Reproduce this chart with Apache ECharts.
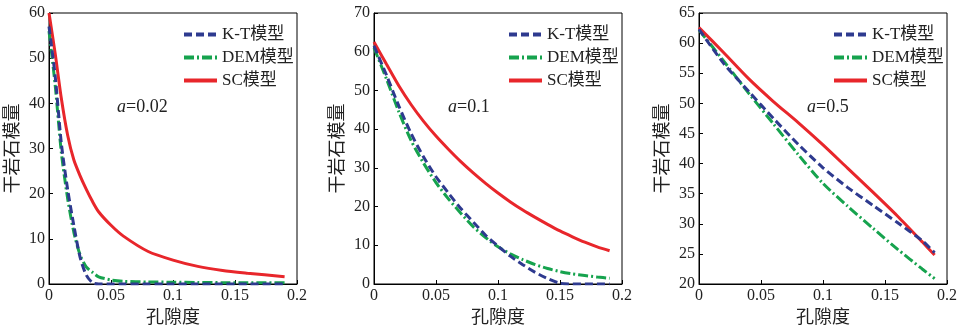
<!DOCTYPE html>
<html>
<head>
<meta charset="utf-8">
<script src="https://cdn.jsdelivr.net/npm/echarts@6/dist/echarts.min.js"></script>
<style>
  html, body { margin: 0; padding: 0; background: #fff; }
  #chart { width: 962px; height: 332px; }
</style>
</head>
<body>
<div id="chart"></div>
<script>
// porosity samples for each panel
const x1 = [0, 0.005, 0.01, 0.015, 0.02, 0.025, 0.03, 0.035, 0.04, 0.05, 0.06, 0.08, 0.1, 0.12, 0.14, 0.16, 0.19];
const kt1 = [57, 46, 31, 21, 13, 6, 2, 0.3, 0, 0, 0, 0, 0, 0, 0, 0, 0];
const dem1 = [56, 44, 29, 19, 11.5, 6.5, 3.8, 2.6, 1.6, 0.9, 0.6, 0.45, 0.4, 0.35, 0.3, 0.28, 0.25];
const sc1 = [60, 51, 41, 33, 27.5, 24, 21, 18.3, 16, 13, 10.6, 7.2, 5.3, 3.9, 3.0, 2.4, 1.6];

const x2 = [0, 0.01, 0.02, 0.03, 0.04, 0.05, 0.06, 0.07, 0.08, 0.09, 0.1, 0.11, 0.12, 0.13, 0.14, 0.15, 0.16, 0.17, 0.18, 0.19];
const kt2 = [61.5, 54, 46, 38.8, 32.8, 27.7, 23.5, 19.5, 16, 12.6, 9.8, 7.2, 5, 3, 1.4, 0.2, 0, 0, 0, 0];
const dem2 = [61, 53, 44.5, 37, 31.2, 26.2, 22, 18.3, 14.8, 12, 9.6, 7.8, 6.3, 5.0, 4.0, 3.2, 2.6, 2.2, 1.8, 1.5];
const sc2 = [62.5, 56.8, 51.2, 46.3, 42, 38.2, 34.8, 31.6, 28.7, 26, 23.5, 21.2, 19.1, 17.2, 15.4, 13.7, 12.2, 10.8, 9.6, 8.6];

const x3 = [0, 0.02, 0.04, 0.06, 0.08, 0.1, 0.12, 0.14, 0.16, 0.18, 0.19];
const kt3 = [62.3, 56.6, 52, 47.5, 43.2, 39.3, 36, 33.1, 30.2, 27.2, 25.2];
const dem3 = [62.2, 57, 51.7, 46.6, 41.5, 36.7, 32.9, 29.3, 25.8, 22.5, 20.9];
const sc3 = [62.6, 58.4, 54.1, 50.3, 46.8, 43.1, 39.2, 35.3, 31.3, 27.0, 24.8];

const modelNames = ["K-T模型", "DEM模型", "SC模型"];
const alphaLabels = ["0.02", "0.1", "0.5"];
const yRanges = [[0, 60, 10], [0, 70, 10], [20, 65, 5]];

const chart = echarts.init(document.getElementById("chart"));

const serif = "'Liberation Serif', 'Noto Sans CJK SC', serif";
const colors = ["#2e3a8f", "#16a34e", "#e8262b"];
const dashes = [[8, 4], [10, 3, 2, 3], "solid"];

const panels = [
  { xs: x1, ys: [kt1, dem1, sc1], left: 49, noteX: 117 },
  { xs: x2, ys: [kt2, dem2, sc2], left: 374, noteX: 448 },
  { xs: x3, ys: [kt3, dem3, sc3], left: 699, noteX: 807 },
];

const grid = [], xAxis = [], yAxis = [], series = [], legend = [], graphic = [];

panels.forEach((p, i) => {
  grid.push({
    left: p.left, top: 13, width: 248, height: 271,
    show: true, borderColor: "#000", borderWidth: 1, backgroundColor: "transparent",
  });
  xAxis.push({
    type: "value", gridIndex: i, min: 0, max: 0.2, interval: 0.05,
    name: "孔隙度", nameLocation: "middle", nameGap: 24,
    nameTextStyle: { fontFamily: serif, fontSize: 18, color: "#222" },
    axisLine: { show: true, onZero: false, lineStyle: { color: "#000" } },
    axisTick: { show: true, inside: true, length: 4, lineStyle: { color: "#000" } },
    axisLabel: { fontFamily: serif, fontSize: 16, color: "#222", margin: 4 },
    splitLine: { show: false },
  });
  const [ymin, ymax, yint] = yRanges[i];
  yAxis.push({
    type: "value", gridIndex: i, min: ymin, max: ymax, interval: yint,
    name: "干岩石模量", nameLocation: "middle", nameGap: 27, nameRotate: 90,
    nameTextStyle: { fontFamily: serif, fontSize: 18, color: "#222" },
    axisLine: { show: true, lineStyle: { color: "#000" } },
    axisTick: { show: true, inside: true, length: 4, lineStyle: { color: "#000" } },
    axisLabel: { fontFamily: serif, fontSize: 16, color: "#222", margin: 4 },
    splitLine: { show: false },
  });
  p.ys.forEach((ys, k) => {
    series.push({
      name: modelNames[k], type: "line", xAxisIndex: i, yAxisIndex: i,
      data: p.xs.map((x, j) => [x, ys[j]]),
      smooth: 0.25, symbol: "none", z: k === 2 ? 3 : 4 - k,
      lineStyle: { color: colors[k], width: 3, type: dashes[k] },
      itemStyle: { color: colors[k] },
    });
  });
  legend.push({
    data: modelNames, orient: "vertical",
    left: p.left + 128, top: 21, itemWidth: 33, itemHeight: 14, itemGap: 6,
    itemStyle: { opacity: 0 },
    lineStyle: { width: 4 },
    textStyle: { fontFamily: serif, fontSize: 17, color: "#222" },
    selectedMode: false,
  });
  graphic.push({
    type: "text", left: p.noteX, top: 98,
    style: {
      text: "{i|a}=" + alphaLabels[i],
      font: "18px " + serif, fill: "#222",
      rich: { i: { fontStyle: "italic", fontFamily: serif, fontSize: 18, fill: "#222" } },
    },
  });
});

chart.setOption({ animation: false, grid, xAxis, yAxis, series, legend, graphic });
</script>
</body>
</html>
